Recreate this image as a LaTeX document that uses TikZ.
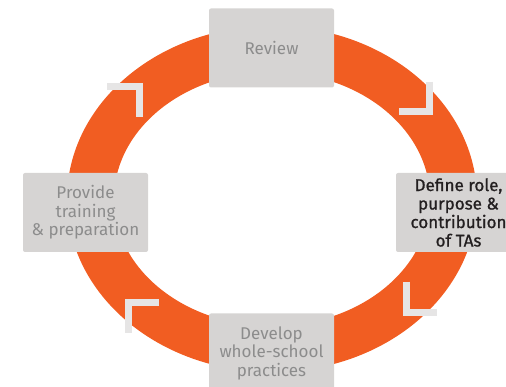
\documentclass[tikz,border=0pt]{standalone}
\usepackage{fontspec}
\setmainfont{Fira Sans}
\newfontfamily\darkfont[FakeBold=0.9]{Fira Sans}
\definecolor{ringorange}{HTML}{F15D22}
\definecolor{boxgray}{HTML}{D6D4D3}
\definecolor{markgray}{HTML}{E6E5E5}
\definecolor{labelgray}{HTML}{8C8C8C}
\definecolor{labeldark}{HTML}{231F20}
\tikzset{
	stage/.style={rectangle, rounded corners=2pt, fill=boxgray, inner sep=0pt,
		minimum width=125pt, minimum height=79pt, align=center, text=labelgray,
		font=\fontsize{17}{18.5}\selectfont},
	turn/.style={draw=markgray, line width=7pt, line join=miter}
}

\begin{document}
\begin{tikzpicture}[x=1pt,y=-1pt]
	\useasboundingbox (0,0) rectangle (506,387);
	\clip (0,0) rectangle (506,387);
	% Ring
	\fill[ringorange, even odd rule] (272,199) ellipse [x radius=205, y radius=173]
		(272,199) ellipse [x radius=158, y radius=127];
	% Turn marks (clockwise)
	\draw[turn] (107,86.3) -- (139,86.3) -- (139,116.7);
	\draw[turn] (429.2,81.7) -- (429.2,111.3) -- (399,111.3);
	\draw[turn] (406.7,281.7) -- (406.7,312.3) -- (436.7,312.3);
	\draw[turn] (159,302.8) -- (128.8,302.8) -- (128.8,333);
	% Stages
	\node[stage] (review) at (271.5,48) {Review};
	\node[stage, text=labeldark, font=\darkfont\fontsize{17}{18.5}\selectfont] (define) at (458.5,212.5) {Define role,\\purpose \&\\contribution\\of TAs};
	\node[stage] (develop) at (271.5,353) {Develop\\whole-school\\practices};
	\node[stage] (provide) at (85.5,212.5) {Provide\\training\\\& preparation};
\end{tikzpicture}
\end{document}
